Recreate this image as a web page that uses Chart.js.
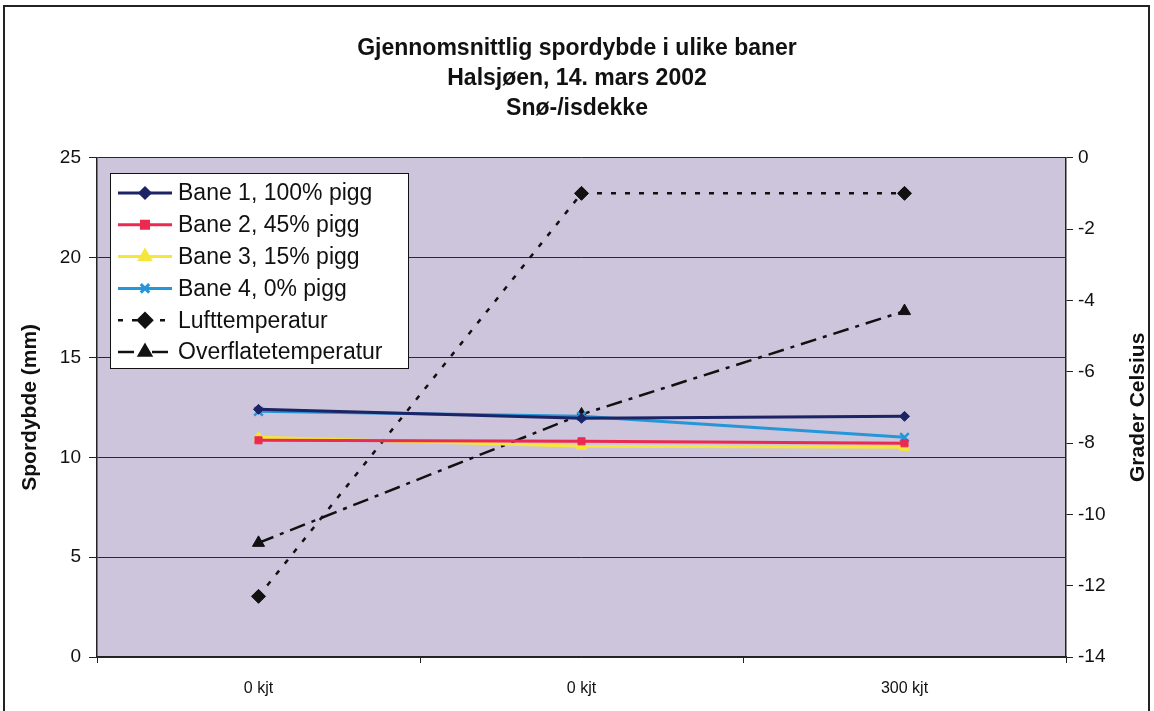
<!DOCTYPE html>
<html>
<head>
<meta charset="utf-8">
<script src="https://cdn.jsdelivr.net/npm/chart.js@4/dist/chart.umd.min.js"></script>
<style>
  html, body { margin: 0; padding: 0; background: #ffffff; }
  #wrap { position: relative; width: 1154px; height: 711px; }
</style>
</head>
<body>
<div id="wrap"><canvas id="sporChart" width="1154" height="711"></canvas></div>
<script>
// Data
const categories = ['0 kjt', '0 kjt', '300 kjt'];
const bane1 = [12.4, 11.95, 12.05];
const bane2 = [10.85, 10.8, 10.7];
const bane3 = [11.0, 10.55, 10.5];
const bane4 = [12.3, 12.05, 11.0];
const luftTemp = [-12.3, -1.0, -1.0];
const overflateTemp = [-10.8, -7.2, -4.3];

const titleLines = ['Gjennomsnittlig spordybde i ulike baner', 'Halsjøen, 14. mars 2002', 'Snø-/isdekke'];
const leftAxisTitle = 'Spordybde (mm)';
const rightAxisTitle = 'Grader Celsius';

const FONT = "'Liberation Sans', Arial, sans-serif";

// plot background + outer frame
const framePlugin = {
    id: 'frame',
    beforeDraw(chart) {
        const ctx = chart.ctx;
        const a = chart.chartArea;
        ctx.save();
        ctx.fillStyle = '#ffffff';
        ctx.fillRect(0, 0, chart.width, chart.height);
        ctx.fillStyle = '#ccc5db';
        ctx.fillRect(a.left, a.top, a.right - a.left, a.bottom - a.top);
        ctx.strokeStyle = '#222222';
        ctx.lineWidth = 2;
        ctx.strokeRect(4, 6, chart.width - 9, chart.height + 20);
        ctx.restore();
    },
    afterDraw(chart) {
        // right axis title reads bottom-to-top in the original
        const ctx = chart.ctx;
        const a = chart.chartArea;
        ctx.save();
        ctx.translate(1138, (a.top + a.bottom) / 2);
        ctx.rotate(-Math.PI / 2);
        ctx.fillStyle = '#111111';
        ctx.font = 'bold 21px ' + FONT;
        ctx.textAlign = 'center';
        ctx.textBaseline = 'middle';
        ctx.fillText(rightAxisTitle, 0, 0);
        ctx.restore();
    }
};

// legend box inside the plot, like the Excel original
const boxLegend = {
    id: 'boxLegend',
    afterDatasetsDraw(chart) {
        const ctx = chart.ctx;
        const x0 = 110, y0 = 173, w = 298, h = 195, rowH = 31.8;
        ctx.save();
        ctx.fillStyle = '#ffffff';
        ctx.fillRect(x0, y0, w, h);
        ctx.strokeStyle = '#111111';
        ctx.lineWidth = 1;
        ctx.strokeRect(x0 + 0.5, y0 + 0.5, w, h);
        chart.data.datasets.forEach((ds, i) => {
            const cy = y0 + 20 + i * rowH;
            ctx.strokeStyle = ds.borderColor;
            ctx.lineWidth = ds.borderWidth;
            ctx.setLineDash(ds.borderDash || []);
            ctx.beginPath();
            ctx.moveTo(x0 + 8, cy);
            ctx.lineTo(x0 + 62, cy);
            ctx.stroke();
            ctx.setLineDash([]);
            ctx.fillStyle = ds.pointBackgroundColor;
            ctx.strokeStyle = ds.pointBorderColor;
            Chart.helpers.drawPoint(ctx, {
                pointStyle: ds.pointStyle,
                radius: ds.pointRadius,
                rotation: 0,
                borderWidth: ds.pointBorderWidth
            }, x0 + 35, cy);
            ctx.fillStyle = '#111111';
            ctx.font = '23px ' + FONT;
            ctx.textBaseline = 'middle';
            ctx.textAlign = 'left';
            ctx.fillText(ds.label, x0 + 68, cy + 1);
        });
        ctx.restore();
    }
};

function line(label, data, color, style, radius, extra) {
    return Object.assign({
        label: label,
        data: data,
        borderColor: color,
        backgroundColor: color,
        borderWidth: 3,
        pointStyle: style,
        pointRadius: radius,
        pointHoverRadius: radius,
        pointBackgroundColor: color,
        pointBorderColor: color,
        pointBorderWidth: 1,
        tension: 0,
        fill: false,
        yAxisID: 'y'
    }, extra || {});
}

const ctx = document.getElementById('sporChart');
new Chart(ctx, {
    type: 'line',
    data: {
        labels: categories,
        datasets: [
            line('Bane 1, 100% pigg', bane1, '#1c2466', 'rectRot', 5),
            line('Bane 2, 45% pigg', bane2, '#ec2a50', 'rect', 5),
            line('Bane 3, 15% pigg', bane3, '#f4e63a', 'triangle', 6),
            line('Bane 4, 0% pigg', bane4, '#2596d8', 'crossRot', 6, { pointBorderWidth: 2.5 }),
            line('Lufttemperatur', luftTemp, '#111111', 'rectRot', 7, { borderWidth: 2.5, borderDash: [5, 9], yAxisID: 'y2' }),
            line('Overflatetemperatur', overflateTemp, '#111111', 'triangle', 7, { borderWidth: 2.5, borderDash: [16, 7, 4, 7], yAxisID: 'y2' })
        ]
    },
    options: {
        responsive: false,
        animation: false,
        layout: { padding: { top: 0, left: 0, right: 0, bottom: 0 } },
        plugins: {
            legend: { display: false },
            tooltip: { enabled: false },
            title: {
                display: true,
                text: titleLines,
                color: '#111111',
                font: { family: FONT, size: 23, weight: 'bold', lineHeight: 1.3 },
                padding: { top: 34, bottom: 34 }
            }
        },
        scales: {
            x: {
                offset: true,
                grid: { offset: true, drawOnChartArea: false, color: '#222222', tickLength: 6 },
                border: { color: '#222222', width: 1.5 },
                ticks: { color: '#111111', padding: 16, font: { family: FONT, size: 16 }, maxRotation: 0 },
                afterFit(scale) { scale.height = 54; }
            },
            y: {
                position: 'left',
                min: 0,
                max: 25,
                ticks: { stepSize: 5, color: '#111111', padding: 8, font: { family: FONT, size: 19 } },
                grid: { color: '#2a2a2a', lineWidth: 1, tickLength: 8, tickColor: '#222222' },
                border: { color: '#222222', width: 1.5 },
                title: {
                    display: true,
                    text: leftAxisTitle,
                    color: '#111111',
                    font: { family: FONT, size: 21, weight: 'bold', lineHeight: 1.2 },
                    padding: { top: 18, bottom: 0 }
                },
                afterFit(scale) { scale.width = 97; }
            },
            y2: {
                position: 'right',
                min: -14,
                max: 0,
                ticks: { stepSize: 2, color: '#111111', padding: 5, font: { family: FONT, size: 19 } },
                grid: { drawOnChartArea: false, tickLength: 7, color: '#222222' },
                border: { color: '#222222', width: 1.5 },
                afterFit(scale) { scale.width = 88; }
            }
        }
    },
    plugins: [framePlugin, boxLegend]
});
</script>
</body>
</html>
